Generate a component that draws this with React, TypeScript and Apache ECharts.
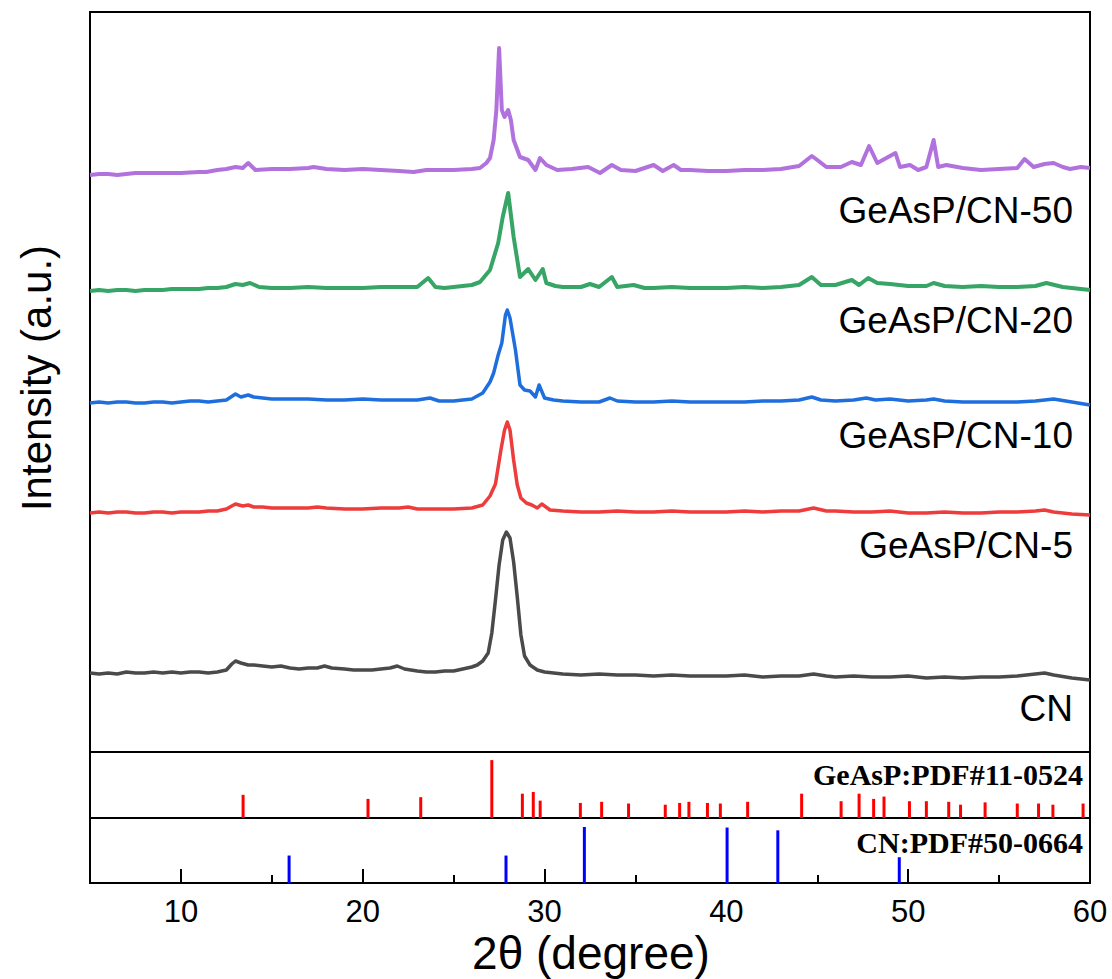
import React, { useEffect, useRef } from "react";
import * as echarts from "echarts";

// 2θ (degree) , intensity (a.u., curves already offset for display)
const CN: [number, number][] = [
  [5, 79], [5.5, 78], [6, 79], [6.5, 78], [7, 80], [7.5, 79], [8, 79], [8.5, 80], [9, 79], [9.5, 80],
  [10, 79], [10.5, 80], [11, 80], [11.5, 79], [12, 80], [12.5, 82], [12.8, 88], [13, 91], [13.3, 89],
  [13.7, 87], [14, 87], [14.5, 86], [15, 85], [15.5, 86], [16, 84], [16.5, 83], [17, 84], [17.5, 84],
  [17.9, 86], [18.3, 84], [19, 83], [19.5, 82], [20, 82], [20.5, 82], [21, 83], [21.5, 84], [21.9, 86],
  [22.3, 83], [23, 81], [23.5, 80], [24, 80], [24.5, 81], [25, 81], [25.5, 83], [26, 85], [26.3, 87],
  [26.6, 91], [26.9, 99], [27.1, 119], [27.3, 152], [27.5, 187], [27.7, 212], [27.9, 220], [28.1, 214],
  [28.3, 190], [28.5, 155], [28.7, 117], [28.9, 96], [29.2, 87], [29.6, 82], [30, 80], [30.5, 79],
  [31, 78], [32, 77], [33, 78], [34, 77], [35, 77], [36, 76], [37, 77], [38, 76], [39, 76], [40, 76],
  [41, 77], [42, 75], [43, 76], [44, 76], [44.8, 78], [45.5, 76], [46, 75], [47, 76], [48, 75], [49, 75],
  [50, 76], [51, 74], [52, 75], [53, 74], [54, 75], [55, 75], [56, 76], [57, 78], [57.5, 79], [58, 77],
  [59, 74], [60, 72],
];

const CN5: [number, number][] = [
  [5, 239], [5.5, 240], [6, 239], [6.5, 240], [7, 240], [7.5, 239], [8, 239], [8.5, 240], [9, 240],
  [9.5, 239], [10, 240], [10.5, 240], [11, 240], [11.5, 241], [12, 241], [12.5, 243], [12.8, 246],
  [13, 248], [13.4, 246], [13.7, 247], [14, 245], [14.5, 245], [15, 244], [16, 244], [17, 244],
  [17.5, 245], [18, 244], [19, 243], [20, 243], [21, 244], [22, 244], [22.5, 245], [23, 243], [24, 243],
  [25, 243], [26, 244], [26.6, 247], [27, 256], [27.3, 268], [27.6, 302], [27.8, 322], [27.95, 330],
  [28.1, 322], [28.3, 292], [28.5, 267], [28.7, 254], [29, 249], [29.3, 247], [29.6, 244], [29.85, 248],
  [30.3, 242], [31, 241], [32, 240], [33, 240], [34, 241], [35, 240], [36, 240], [37, 241], [38, 240],
  [39, 240], [40, 240], [41, 241], [42, 240], [43, 241], [44, 241], [44.8, 244], [45.5, 241], [46, 241],
  [47, 240], [48, 240], [49, 241], [50, 239], [51, 239], [52, 240], [53, 239], [54, 239], [55, 240],
  [56, 240], [57, 241], [57.5, 242], [58, 240], [59, 238], [60, 237],
];

const CN10: [number, number][] = [
  [5, 349], [5.5, 350], [6, 349], [6.5, 350], [7, 350], [7.5, 349], [8, 349], [8.5, 350], [9, 350],
  [9.5, 349], [10, 350], [10.5, 351], [11, 351], [11.5, 350], [12, 351], [12.5, 352], [13, 358],
  [13.3, 355], [13.7, 357], [14, 355], [14.5, 354], [15, 353], [16, 353], [17, 353], [18, 352], [19, 352],
  [20, 353], [21, 352], [22, 352], [23, 352], [23.7, 354], [24.2, 351], [25, 351], [26, 353], [26.6, 359],
  [27, 370], [27.2, 379], [27.45, 397], [27.65, 409], [27.85, 437], [27.95, 442], [28.1, 434],
  [28.4, 402], [28.65, 367], [28.9, 362], [29.2, 361], [29.5, 355], [29.7, 367], [30, 354], [30.5, 352],
  [31, 351], [32, 350], [33, 350], [33.6, 354], [34, 351], [35, 350], [36, 350], [37, 351], [38, 350],
  [39, 350], [40, 350], [41, 350], [42, 351], [43, 351], [44, 352], [44.7, 355], [45.2, 352], [46, 351],
  [47, 352], [47.7, 354], [48.2, 352], [49, 353], [49.5, 352], [50, 351], [51, 352], [51.4, 353],
  [52, 351], [53, 350], [54, 350], [55, 350], [56, 350], [57, 351], [58, 353], [59, 350], [60, 347],
];

const CN20: [number, number][] = [
  [5, 461], [5.5, 462], [6, 461], [6.5, 462], [7, 462], [7.5, 461], [8, 462], [9, 462], [9.5, 463],
  [10, 463], [11, 463], [11.5, 464], [12, 464], [12.5, 465], [13, 468], [13.4, 467], [13.8, 469],
  [14.3, 465], [15, 464], [16, 464], [17, 465], [18, 464], [19, 464], [20, 464], [21, 465], [22, 465],
  [23, 465], [23.6, 474], [24, 465], [24.5, 464], [25, 465], [26, 467], [26.45, 470], [27, 482],
  [27.45, 509], [27.7, 535], [28, 559], [28.3, 515], [28.65, 475], [29.1, 483], [29.5, 472], [29.9, 483],
  [30.1, 469], [30.6, 466], [31, 465], [32, 465], [32.5, 468], [33, 465], [33.7, 475], [34, 465],
  [34.9, 467], [35.5, 464], [36, 464], [37, 465], [38, 464], [39, 464], [40, 464], [41, 465], [42, 464],
  [43, 465], [44, 467], [44.7, 475], [45.2, 467], [46, 467], [46.9, 472], [47.3, 467], [47.8, 474],
  [48.3, 469], [49, 468], [50, 466], [51, 466], [51.4, 469], [52, 466], [53, 465], [54, 466], [55, 465],
  [56, 465], [57, 466], [57.6, 469], [58.5, 465], [59, 464], [60, 462],
];

const CN50: [number, number][] = [
  [5, 577], [5.5, 578], [6, 578], [6.5, 577], [7, 578], [7.5, 579], [8, 579], [9, 579], [10, 579],
  [11, 580], [11.4, 580], [12, 582], [12.5, 583], [13, 585], [13.4, 584], [13.7, 589], [14.1, 582],
  [15, 583], [16, 583], [17, 584], [17.3, 585], [18, 583], [19, 582], [20, 583], [21, 582], [22, 581],
  [22.8, 580], [23.5, 582], [24, 582], [25, 582], [26, 583], [26.45, 584], [26.8, 589], [27, 594],
  [27.2, 612], [27.35, 642], [27.5, 704], [27.65, 642], [27.8, 635], [28, 642], [28.15, 632], [28.3, 612],
  [28.65, 595], [29.1, 592], [29.5, 582], [29.75, 594], [30.1, 587], [30.7, 582], [31.5, 583],
  [32.4, 585], [33.05, 579], [33.7, 587], [34.2, 582], [35, 581], [36, 587], [36.5, 581], [37.1, 587],
  [37.5, 582], [38, 582], [39, 581], [40, 581], [41, 582], [42, 582], [43, 583], [44, 586], [44.7, 596],
  [45, 592], [45.5, 585], [46.3, 585], [46.9, 590], [47.4, 587], [47.85, 606], [48.3, 589], [48.8, 594],
  [49.3, 599], [49.55, 585], [50.1, 587], [50.55, 582], [51, 585], [51.4, 612], [51.65, 585], [52.1, 587],
  [53, 584], [54, 582], [55, 583], [56, 584], [56.4, 593], [56.9, 585], [57.5, 588], [58, 589],
  [58.5, 585], [58.9, 583], [59.5, 585], [60, 584],
];

// Reference patterns: [2θ, relative intensity]
const GEASP_PDF: [number, number][] = [
  [13.42, 40], [20.29, 33], [23.19, 36], [27.1, 100], [28.78, 42], [29.38, 45], [29.76, 30], [31.97, 26],
  [33.14, 28], [34.62, 25], [36.64, 23], [37.43, 26], [37.94, 28], [38.96, 26], [39.67, 25], [41.17, 28],
  [44.14, 42], [46.31, 29], [47.3, 42], [48.1, 33], [48.67, 37], [50.07, 29], [51.0, 29], [52.23, 28],
  [52.88, 23], [54.23, 27], [56.0, 25], [57.17, 25], [57.96, 23], [59.62, 25],
];

const CN_PDF: [number, number][] = [
  [15.95, 49], [27.88, 49], [32.19, 100], [40.04, 99], [42.83, 94], [49.51, 46],
];

const MAJOR_TICKS = [10, 20, 30, 40, 50, 60];
const MINOR_TICKS = [15, 25, 35, 45, 55];

const SERIES_NAMES = ["CN", "GeAsP/CN-5", "GeAsP/CN-10", "GeAsP/CN-20", "GeAsP/CN-50"];
const SERIES_COLORS = ["#4a4a4a", "#ee3b3b", "#1e6fdd", "#36a566", "#b172dd"];

export default function App() {
  const ref = useRef<HTMLDivElement>(null);
  useEffect(() => {
    const chart = echarts.init(ref.current!, undefined, { renderer: "svg" });
    const curves = [CN, CN5, CN10, CN20, CN50];
    const gridStyle = { show: true, borderColor: "#000", borderWidth: 2, backgroundColor: "transparent" };
    const hiddenX = (gi: number) => ({
      type: "value", gridIndex: gi, min: 5, max: 60, show: false,
    });
    const labelTexts = [
      { t: "GeAsP/CN-50", y: 210 },
      { t: "GeAsP/CN-20", y: 320 },
      { t: "GeAsP/CN-10", y: 435 },
      { t: "GeAsP/CN-5", y: 545 },
      { t: "CN", y: 708 },
    ];
    chart.setOption({
      animation: false,
      backgroundColor: "#fff",
      grid: [
        { left: 90, top: 12, width: 1000, height: 740, ...gridStyle },
        { left: 90, top: 752, width: 1000, height: 66, ...gridStyle },
        { left: 90, top: 818, width: 1000, height: 65, ...gridStyle },
      ],
      xAxis: [
        hiddenX(0),
        hiddenX(1),
        {
          type: "value", gridIndex: 2, min: 5, max: 60, position: "bottom",
          axisLine: { show: false },
          axisTick: { show: true, inside: true, length: 14, customValues: MAJOR_TICKS, lineStyle: { color: "#000", width: 2 } },
          axisLabel: { show: true, customValues: MAJOR_TICKS, margin: 13, fontSize: 31, color: "#000", fontFamily: "Liberation Sans" },
          splitLine: { show: false },
        },
        {
          type: "value", gridIndex: 2, min: 5, max: 60, position: "bottom",
          axisLine: { show: false },
          axisTick: { show: true, inside: true, length: 8, customValues: MINOR_TICKS, lineStyle: { color: "#000", width: 2 } },
          axisLabel: { show: false },
          splitLine: { show: false },
        },
      ],
      yAxis: [
        { type: "value", gridIndex: 0, min: 0, max: 740, show: false },
        { type: "value", gridIndex: 1, min: 0, max: 114, show: false },
        { type: "value", gridIndex: 2, min: 0, max: 116, show: false },
      ],
      series: [
        ...curves.map((d, i) => ({
          type: "line", name: SERIES_NAMES[i], xAxisIndex: 0, yAxisIndex: 0, data: d,
          showSymbol: false, symbol: "none", clip: true,
          lineStyle: { color: SERIES_COLORS[i], width: i >= 3 ? 4 : 3.5, join: "round" },
          z: 2 + i,
        })),
        {
          type: "bar", name: "GeAsP:PDF#11-0524", xAxisIndex: 1, yAxisIndex: 1, data: GEASP_PDF,
          barWidth: 3, itemStyle: { color: "#ff0000" },
        },
        {
          type: "bar", name: "CN:PDF#50-0664", xAxisIndex: 2, yAxisIndex: 2, data: CN_PDF,
          barWidth: 3, itemStyle: { color: "#0000ff" },
        },
      ],
      graphic: [
        ...labelTexts.map((l) => ({
          type: "text", x: 1073, y: l.y, z: 100,
          style: { text: l.t, align: "right", verticalAlign: "middle", fontSize: 37, fontFamily: "Liberation Sans", fill: "#000" },
        })),
        {
          type: "text", x: 1083, y: 774, z: 100,
          style: { text: "GeAsP:PDF#11-0524", align: "right", verticalAlign: "middle", fontSize: 30, fontWeight: "bold", fontFamily: "Liberation Serif", fill: "#000" },
        },
        {
          type: "text", x: 1083, y: 842, z: 100,
          style: { text: "CN:PDF#50-0664", align: "right", verticalAlign: "middle", fontSize: 30, fontWeight: "bold", fontFamily: "Liberation Serif", fill: "#000" },
        },
        {
          type: "text", x: 591, y: 953, z: 100,
          style: { text: "2θ (degree)", align: "center", verticalAlign: "middle", fontSize: 46, fontFamily: "Liberation Sans", fill: "#000" },
        },
        {
          type: "text", x: 36, y: 378, rotation: Math.PI / 2, z: 100,
          style: { text: "Intensity (a.u.)", align: "center", verticalAlign: "middle", fontSize: 42, fontFamily: "Liberation Sans", fill: "#000" },
        },
      ],
    });
    return () => chart.dispose();
  }, []);
  return (
    <div
      ref={ref}
      style={{ position: "absolute", left: 0, top: 0, width: 1112, height: 979, background: "#fff" }}
    />
  );
}
